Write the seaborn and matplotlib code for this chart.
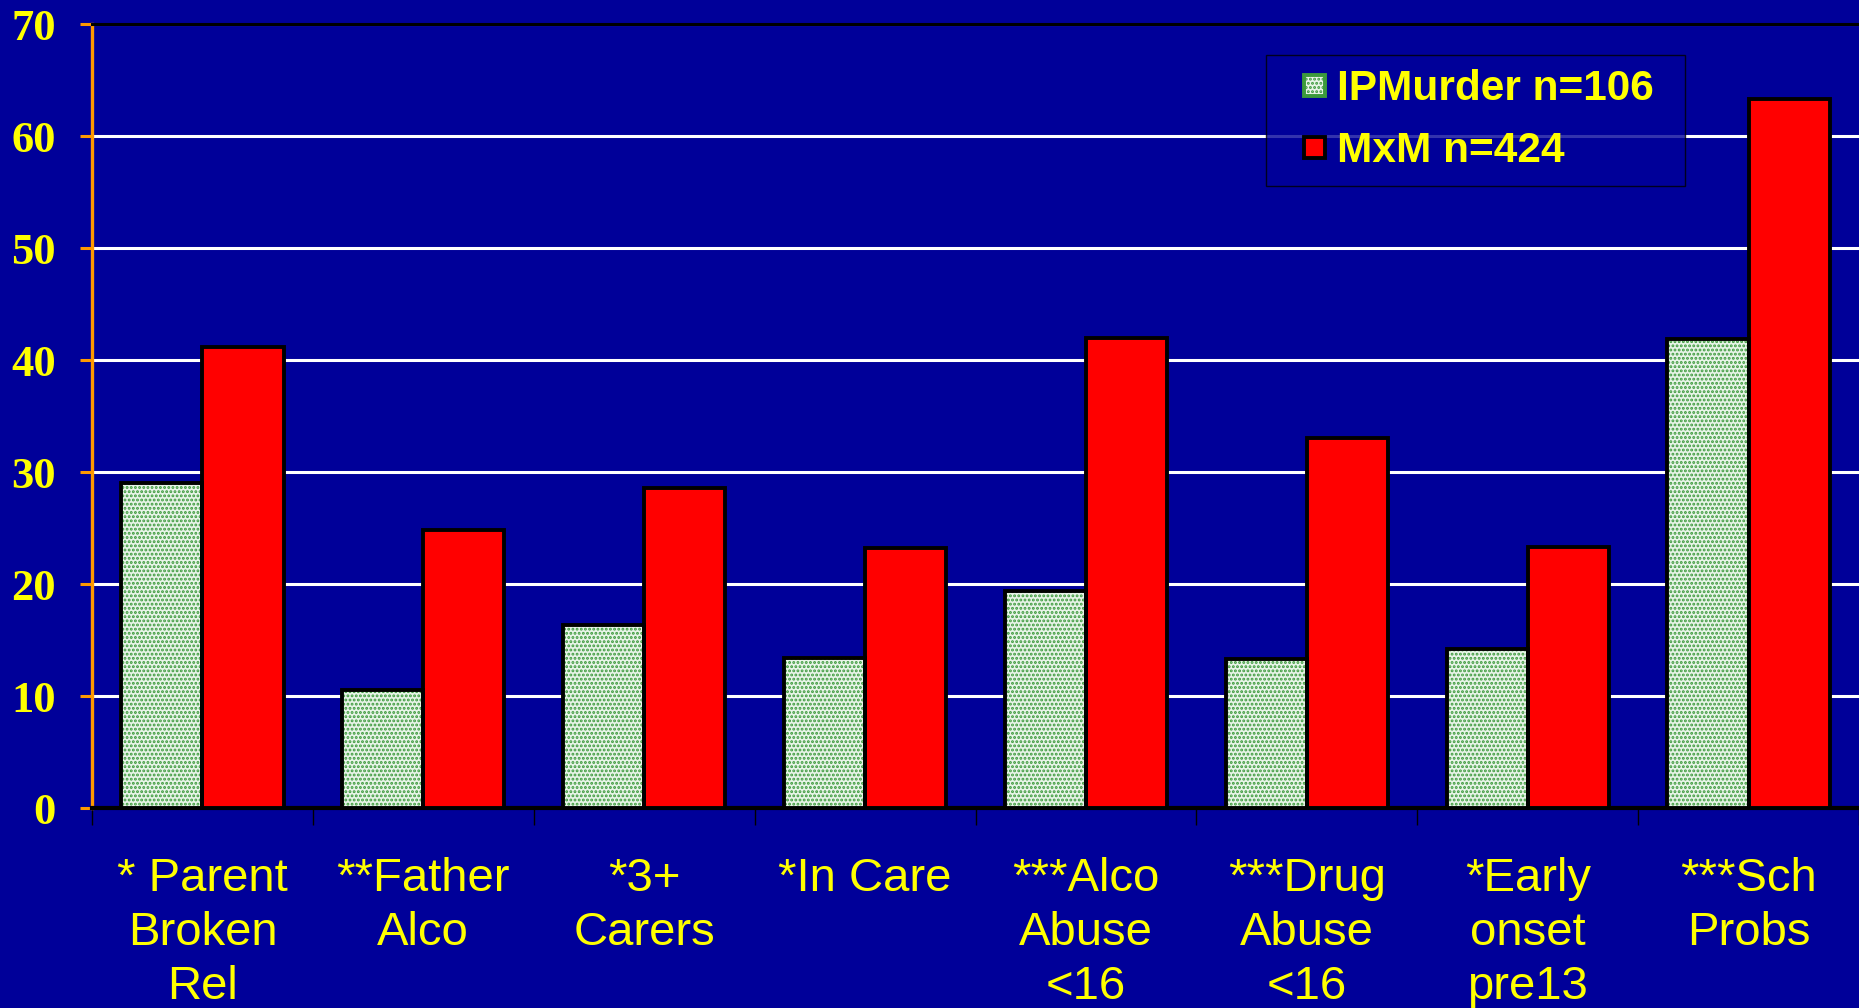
import numpy as np
import pandas as pd
import matplotlib
matplotlib.use("Agg")
import matplotlib.pyplot as plt
import seaborn as sns
from matplotlib.patches import Patch, Rectangle
from matplotlib.legend_handler import HandlerPatch

categories = ["* Parent\nBroken\nRel", "**Father\nAlco", "*3+\nCarers", "*In Care",
              "***Alco\nAbuse\n<16", "***Drug\nAbuse\n<16", "*Early\nonset\npre13", "***Sch\nProbs"]
ip_values = [29.0, 10.5, 16.3, 13.4, 19.4, 13.3, 14.2, 41.9]
mxm_values = [41.2, 24.8, 28.6, 23.2, 42.0, 33.0, 23.3, 63.3]
series_names = ["IPMurder n=106", "MxM n=424"]
yticks = [0, 10, 20, 30, 40, 50, 60, 70]

BG = "#000099"
YELLOW = "#FFFF00"
ORANGE = "#FF9900"
GREEN_FILL = "#E8F4E8"
GREEN_DOT = "#3C9A3C"
RED = "#FF0000"

df = pd.DataFrame({
    "category": categories * 2,
    "value": ip_values + mxm_values,
    "series": [series_names[0]] * len(categories) + [series_names[1]] * len(categories),
})

sns.set_style("white")
plt.rcParams["font.family"] = ["Liberation Sans", "DejaVu Sans"]
plt.rcParams["hatch.linewidth"] = 1.4

fig = plt.figure(figsize=(18.59, 10.08), dpi=100, facecolor=BG)
ax = fig.add_axes([92 / 1859, 1 - 808 / 1008, 1 - 92 / 1859, (808 - 24) / 1008])
ax.set_facecolor(BG)

sns.barplot(data=df, x="category", y="value", hue="series", order=categories,
            hue_order=series_names, palette=[GREEN_FILL, RED], width=0.735,
            edgecolor="black", linewidth=2.8, saturation=1, ax=ax, zorder=3,
            legend=False)

# stipple pattern on the IPMurder bars
n = len(categories)
ip_patches = ax.patches[:n]
for p in ip_patches:
    p.set_edgecolor(GREEN_DOT)
    p.set_hatch("....")
    p.set_linewidth(0)
    outline = Rectangle((p.get_x(), p.get_y()), p.get_width(), p.get_height(),
                        fill=False, edgecolor="black", linewidth=2.8, zorder=4)
    ax.add_patch(outline)

ax.set_ylim(0, 70)
ax.set_xlim(-0.5, n - 0.5)
ax.set_yticks(yticks)
ax.set_yticklabels([str(v) for v in yticks], family=["Liberation Serif"],
                   fontweight="bold", fontsize=32, color=YELLOW)
ax.tick_params(axis="y", direction="out", length=9, width=2.2, color=ORANGE, pad=17, left=True)

ax.set_xticks(range(n))
ax.set_xticklabels(categories, fontsize=34, color=YELLOW, linespacing=1.3)
ax.tick_params(axis="x", which="major", length=0, pad=35)
ax.set_xticks(np.arange(-0.5, n, 1.0), minor=True)
ax.tick_params(axis="x", which="minor", length=12, width=1, color="black",
               direction="out", bottom=True)

ax.yaxis.grid(True, color="white", linewidth=2.2, zorder=1)
ax.xaxis.grid(False)
ax.set_axisbelow(True)
ax.set_xlabel("")
ax.set_ylabel("")

ax.spines["left"].set_color(ORANGE)
ax.spines["left"].set_linewidth(2.4)
ax.spines["bottom"].set_color("black")
ax.spines["bottom"].set_linewidth(3)
ax.spines["top"].set_color("black")
ax.spines["top"].set_linewidth(2.2)
ax.spines["right"].set_visible(False)
for s in ["left", "bottom", "top"]:
    ax.spines[s].set_visible(True)


def square_handle(legend, orig_handle, xdescent, ydescent, width, height, fontsize):
    s = 0.5 * fontsize
    return Rectangle((-xdescent + width - s, -ydescent + (height - s) / 2), s, s)


handles = [Patch(facecolor=GREEN_FILL, edgecolor=GREEN_DOT, hatch="...."),
           Patch(facecolor=RED, edgecolor="black")]
leg = ax.legend(handles, series_names, loc="upper left",
                bbox_to_anchor=(0.6644, 0.8036, 0.2371, 0.157), mode="expand",
                borderaxespad=0, borderpad=0.34, labelspacing=0.52,
                handlelength=1.05, handleheight=0.8, handletextpad=0.28,
                frameon=True, fancybox=False, facecolor=BG, edgecolor="black",
                prop={"family": "Liberation Sans", "weight": "bold", "size": 30.5},
                handler_map={Patch: HandlerPatch(patch_func=square_handle)})
leg.get_frame().set_linewidth(1)
for t in leg.get_texts():
    t.set_color(YELLOW)
for h in leg.legend_handles:
    h.set_linewidth(2.8)
leg.legend_handles[0].set_edgecolor(GREEN_DOT)
leg.set_zorder(10)

fig.savefig("out.png", dpi=100, facecolor=BG)
